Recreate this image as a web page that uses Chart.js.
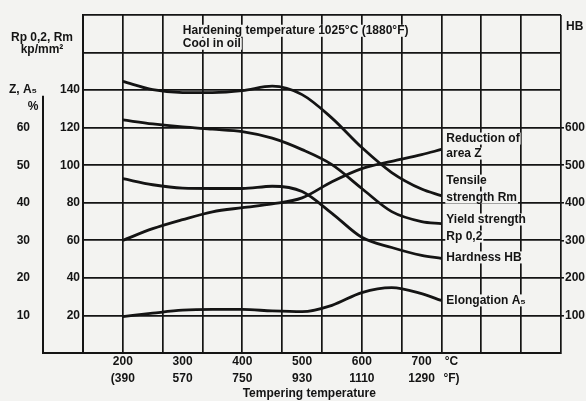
<!DOCTYPE html>
<html>
<head>
<meta charset="utf-8">
<script src="https://cdn.jsdelivr.net/npm/chart.js@4.4.1/dist/chart.umd.min.js"></script>
<style>
  html, body { margin: 0; padding: 0; background: #f3f3f1; }
  #chart { display: block; }
</style>
</head>
<body>
<canvas id="chart" width="586" height="401"></canvas>
<script>
// tempering temperature, °C
const temps = [200, 250, 300, 350, 400, 450, 500, 550, 600, 650, 700, 733];
// kp/mm²
const tensileRm = [144.6, 140.2, 138.7, 138.7, 139.7, 142.1, 137.6, 125.1, 109.4, 96.1, 87.3, 83.8];
const yieldRp = [124.1, 122.0, 120.4, 119.2, 117.9, 114.4, 108.3, 100.3, 87.6, 75.3, 70.0, 68.9];
// HB
const hardnessHB = [464, 448, 439, 438, 438, 444, 430, 372, 308, 281, 260, 252];
// %
const reductionZ = [30.0, 33.1, 35.5, 37.6, 38.7, 39.7, 41.3, 45.6, 49.1, 51.0, 52.8, 54.2];
const elongationA5 = [9.7, 10.6, 11.4, 11.6, 11.6, 11.2, 11.0, 12.7, 16.1, 17.4, 15.8, 14.0];

// axis ticks
const labelTemps = [200, 300, 400, 500, 600, 700, 750];
const cLabels = ['200', '300', '400', '500', '600', '700', '°C'];
const fLabels = ['(390', '570', '750', '930', '1110', '1290', '°F)'];
const rpTicks = [20, 40, 60, 80, 100, 120, 140];
const pctTicks = [10, 20, 30, 40, 50, 60];
const hbTicks = [100, 200, 300, 400, 500, 600];

const ink = '#141414';
const bg = '#f3f3f1';
const font = "'Liberation Sans', Arial, sans-serif";
const xMin = 400 / 3, xMax = 2800 / 3, gridStep = 200 / 3;

function pts(vals) {
  return temps.map((t, i) => ({ x: t, y: vals[i] }));
}

function line(vals, axis) {
  return {
    data: pts(vals),
    yAxisID: axis,
    xAxisID: 'x',
    borderColor: ink,
    borderWidth: 2.8,
    pointRadius: 0,
    cubicInterpolationMode: 'monotone',
    fill: false
  };
}

// curve captions: [text, temp, Rp-scale value]
const captions = [
  ['Reduction of', 733, 114.2],
  ['area Z', 733, 106.2],
  ['Tensile', 733, 91.8],
  ['strength Rm', 733, 82.8],
  ['Yield strength', 733, 71.1],
  ['Rp 0,2', 733, 62.0],
  ['Hardness HB', 733, 50.9],
  ['Elongation A₅', 733, 28.0],
  ['Hardening temperature 1025°C (1880°F)', 292, 171.6],
  ['Cool in oil', 292, 164.7]
];

const notes = {
  id: 'notes',
  afterDraw(chart) {
    const ctx = chart.ctx;
    const xs = chart.scales.x, ys = chart.scales.y, zs = chart.scales.z;
    const area = chart.chartArea;
    ctx.save();
    ctx.font = 'bold 12px ' + font;
    ctx.textBaseline = 'middle';
    captions.forEach(c => {
      const x = xs.getPixelForValue(c[1]) + 5;
      const y = ys.getPixelForValue(c[2]);
      const w = ctx.measureText(c[0]).width;
      ctx.fillStyle = bg;
      ctx.fillRect(x - 1, y - 6, w + 2, 12);
      ctx.fillStyle = ink;
      ctx.textAlign = 'left';
      ctx.fillText(c[0], x, y);
    });

    // Z, A5 axis line and extended base line
    const zx = area.left - 40;
    ctx.strokeStyle = ink;
    ctx.lineWidth = 2;
    ctx.beginPath();
    ctx.moveTo(zx, zs.getPixelForValue(68.5));
    ctx.lineTo(zx, area.bottom);
    ctx.lineTo(area.left, area.bottom);
    ctx.stroke();

    ctx.fillStyle = ink;
    ctx.textAlign = 'center';
    ctx.fillText('Rp 0,2, Rm', area.left - 41, 38);
    ctx.fillText('kp/mm²', area.left - 41, 50);
    ctx.fillText('Z, A₅', area.left - 60, 90);
    ctx.fillText('%', area.left - 50, 107);
    ctx.textAlign = 'left';
    ctx.fillText('HB', area.right + 5, 27);
    ctx.textAlign = 'center';
    ctx.fillText('Tempering temperature', xs.getPixelForValue(512), 394);
    ctx.restore();
  }
};

new Chart(document.getElementById('chart'), {
  type: 'line',
  data: {
    datasets: [
      line(tensileRm, 'y'),
      line(yieldRp, 'y'),
      line(hardnessHB, 'hb'),
      line(reductionZ, 'z'),
      line(elongationA5, 'z')
    ]
  },
  options: {
    responsive: false,
    devicePixelRatio: 1,
    animation: false,
    layout: { padding: { top: 15, left: 0, right: 0, bottom: 0 } },
    plugins: { legend: { display: false }, tooltip: { enabled: false } },
    scales: {
      x: {
        type: 'linear', position: 'bottom', min: xMin, max: xMax,
        afterBuildTicks: a => {
          a.ticks = [];
          for (let v = xMin; v <= xMax + 0.01; v += gridStep) a.ticks.push({ value: v });
        },
        ticks: { display: false },
        grid: { color: ink, lineWidth: 1.7, drawTicks: false },
        border: { color: ink, width: 2 },
        afterFit: s => { s.height = 0; }
      },
      xl: {
        type: 'linear', position: 'bottom', min: xMin, max: xMax,
        afterBuildTicks: a => { a.ticks = labelTemps.map(v => ({ value: v })); },
        ticks: {
          autoSkip: false, maxRotation: 0, padding: 0, color: ink,
          font: { family: font, size: 12, weight: 'bold', lineHeight: 1.4 },
          callback: (v, i) => [cLabels[i], fLabels[i]]
        },
        grid: { display: false, drawTicks: false, tickLength: 0 },
        border: { display: false },
        afterFit: s => { s.height = 48; }
      },
      y: {
        type: 'linear', position: 'left', min: 0, max: 180, weight: 0,
        afterBuildTicks: a => {
          a.ticks = [];
          for (let v = 0; v <= 180; v += 20) a.ticks.push({ value: v });
        },
        ticks: {
          padding: 3, color: ink,
          font: { family: font, size: 12, weight: 'bold' },
          callback: v => rpTicks.includes(v) ? String(v) : ''
        },
        grid: { color: ink, lineWidth: 1.7, drawTicks: false },
        border: { color: ink, width: 2 },
        afterFit: s => { s.width = 40; }
      },
      z: {
        type: 'linear', position: 'left', min: 0, max: 90, weight: 1,
        afterBuildTicks: a => { a.ticks = pctTicks.map(v => ({ value: v })); },
        ticks: {
          padding: 5, color: ink,
          font: { family: font, size: 12, weight: 'bold' }
        },
        grid: { display: false },
        border: { display: false },
        afterFit: s => { s.width = 43; }
      },
      hb: {
        type: 'linear', position: 'right', min: 0, max: 900,
        afterBuildTicks: a => { a.ticks = hbTicks.map(v => ({ value: v })); },
        ticks: {
          padding: 1, color: ink,
          font: { family: font, size: 12, weight: 'bold' }
        },
        grid: { drawOnChartArea: false, color: ink, lineWidth: 1.6, tickLength: 3 },
        border: { display: false },
        afterFit: s => { s.width = 25; }
      }
    }
  },
  plugins: [notes]
});
</script>
</body>
</html>
